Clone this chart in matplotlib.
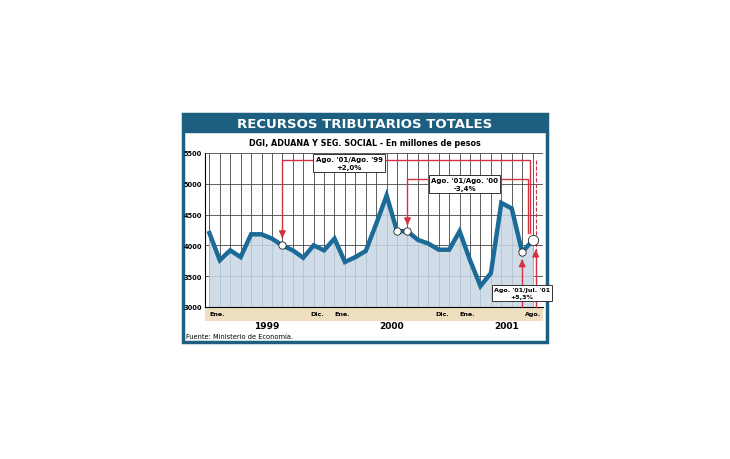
import matplotlib.pyplot as plt
import matplotlib.patches as patches
import numpy as np

# Monthly tax revenue, Jan 1999 - Aug 2001 (millions of pesos)
months = list(range(32))
values = [4200, 3760, 3920, 3810, 4180, 4180, 4110, 4000, 3920, 3800, 4000, 3920,
          4110, 3730, 3810, 3910, 4350, 4810, 4230, 4230, 4090, 4030, 3930, 3930,
          4230, 3760, 3340, 3550, 4690, 4600, 3890, 4080]
month_labels = {0: ("Ene.", "left"), 11: ("Dic.", "right"), 12: ("Ene.", "left"),
                23: ("Dic.", "right"), 24: ("Ene.", "left"), 31: ("Ago.", "center")}
years = {"1999": 5.5, "2000": 17.5, "2001": 28.5}
yticks = [3000, 3500, 4000, 4500, 5000, 5500]

teal = "#1d5f80"
line_c = "#1b6a97"
red = "#d3313f"

fig = plt.figure(figsize=(7.3, 4.6), dpi=100)
W, H = 730, 460

def fx(px): return px / W
def fy(py): return 1 - py / H

# outer frame and title bar
fig.patches.append(patches.Rectangle((fx(183), fy(343)), fx(547) - fx(183), fy(115) - fy(343),
                                     transform=fig.transFigure, fill=False, ec=teal, lw=2.5, zorder=-1))
fig.patches.append(patches.Rectangle((fx(183), fy(133)), fx(547) - fx(183), fy(115) - fy(133),
                                     transform=fig.transFigure, fc=teal, ec=teal, zorder=-1))
fig.text(fx(365), fy(124), "RECURSOS TRIBUTARIOS TOTALES", color="white", fontsize=9.5,
         fontweight="bold", ha="center", va="center")
fig.text(fx(365), fy(143), "DGI, ADUANA Y SEG. SOCIAL - En millones de pesos", fontsize=5.8,
         fontweight="bold", ha="center", va="center")

# tan band for month labels
fig.patches.append(patches.Rectangle((fx(205), fy(322)), fx(543) - fx(205), fy(308) - fy(322),
                                     transform=fig.transFigure, fc="#eedfc0", ec="none", zorder=-1))

ax = fig.add_axes([fx(205), fy(308), fx(543) - fx(205), fy(154) - fy(308)])
ax.set_xlim(-0.42, 32)
ax.set_ylim(3000, 5500)
ax.set_xticks(months)
ax.set_xticklabels([])
ax.set_yticks(yticks)
ax.set_yticklabels([str(v) for v in yticks], fontsize=4.8, fontweight="bold")
ax.tick_params(length=0, pad=2)
ax.grid(True, color="#444444", lw=0.6)
ax.set_axisbelow(True)
for s in ax.spines.values():
    s.set_visible(False)
ax.spines["left"].set_visible(True)
ax.spines["bottom"].set_visible(True)
ax.patch.set_alpha(0)

ax.fill_between(months, values, 3000, color="#c8d8e6", alpha=0.85, zorder=2)
ax.plot(months, values, color=line_c, lw=3.2, solid_joinstyle="miter", zorder=3)

for i, s in [(7, 28), (18, 28), (19, 28), (30, 28), (31, 55)]:
    ax.scatter(months[i], values[i], s=s, facecolor="white", edgecolor="#222222", lw=0.6, zorder=5)

# annotations
kw = dict(color=red, lw=1, clip_on=False, zorder=4)
ax.plot([7, 7, 30.8, 30.8], [4130, 5380, 5380, 4200], **kw)
ax.plot([19, 19, 30.6, 30.6], [4340, 5070, 5070, 4200], **kw)
ax.plot([31.3, 31.3], [5380, 3000], color=red, lw=0.8, ls="--", clip_on=False, zorder=4)
ax.plot([30, 30], [3000, 3760], **kw)
ax.plot([31.3, 31.3], [3000, 3920], **kw)
ax.annotate("", (7, 4120), (7, 4200), arrowprops=dict(arrowstyle="-|>", color=red, lw=1))
ax.annotate("", (19, 4330), (19, 4400), arrowprops=dict(arrowstyle="-|>", color=red, lw=1))
ax.annotate("", (30, 3770), (30, 3700), arrowprops=dict(arrowstyle="-|>", color=red, lw=1))
ax.annotate("", (31.3, 3930), (31.3, 3860), arrowprops=dict(arrowstyle="-|>", color=red, lw=1))

box = dict(boxstyle="square,pad=0.3", fc="white", ec="#333333", lw=0.7)
ax.text(13.4, 5340, "Ago. '01/Ago. '99\n+2,0%", fontsize=5, fontweight="bold", ha="center",
        va="center", bbox=box, zorder=6, linespacing=1.4)
ax.text(24.5, 5000, "Ago. '01/Ago. '00\n-3,4%", fontsize=5, fontweight="bold", ha="center",
        va="center", bbox=box, zorder=6, linespacing=1.4)
ax.text(30.0, 3230, "Ago. '01/Jul. '01\n+5,3%", fontsize=4.6, fontweight="bold", ha="center",
        va="center", bbox=box, zorder=6, linespacing=1.4)

# month and year labels
for i, (lab, ha) in month_labels.items():
    ax.text(i, 3000 - 7 * 2500 / 154, lab, fontsize=4.6, fontweight="bold", ha=ha, va="center")
for lab, xpos in years.items():
    ax.text(xpos, 3000 - 19 * 2500 / 154, lab, fontsize=6.5, fontweight="bold", ha="center", va="center")

fig.text(fx(186), fy(337), "Fuente: Ministerio de Economía.", fontsize=4.8, va="center")

fig.savefig("out.png", dpi=100, facecolor="white")
